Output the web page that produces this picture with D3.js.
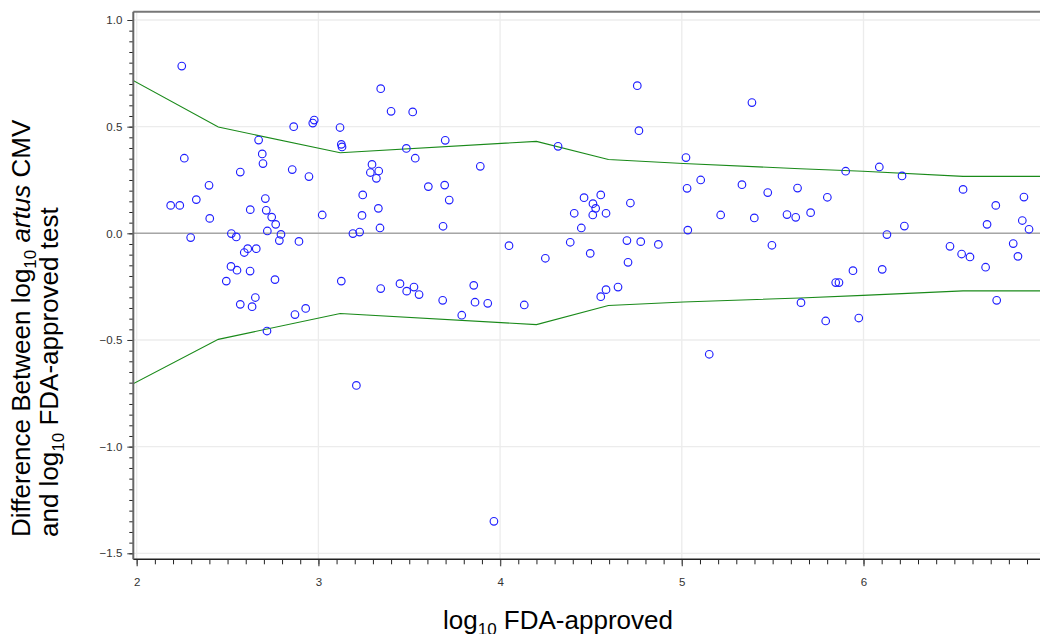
<!DOCTYPE html>
<html>
<head>
<meta charset="utf-8">
<script src="https://cdn.jsdelivr.net/npm/d3@7"></script>
<style>
  body { margin: 0; background: #fff; }
  svg { display: block; }
  .tick text { font-family: "Liberation Sans", Arial, sans-serif; font-size: 11.5px; fill: #333; }
  .title { font-family: "Liberation Sans", Arial, sans-serif; font-size: 26px; fill: #000; }
</style>
</head>
<body>
<script>
// log10 FDA-approved value (x) and difference artus - FDA (y)
var fdaLog = [
  2.248, 2.262, 2.187, 2.237, 2.328, 2.398, 2.402, 2.297, 2.570, 2.625,
  2.521, 2.548, 2.671, 2.691, 2.695, 2.708, 2.713, 2.743, 2.765, 2.719,
  2.794, 2.785, 2.611, 2.592, 2.658, 2.519, 2.552, 2.624, 2.493, 2.761,
  2.653, 2.570, 2.635, 2.717, 2.871, 2.930, 2.893, 3.021, 2.856, 2.948,
  2.864, 2.969, 2.977, 3.119, 3.126, 3.130, 3.126,
  3.343, 3.400, 3.519, 3.484, 3.698, 3.533, 3.295, 3.286, 3.332, 3.319,
  3.891, 3.244, 3.605, 3.695, 3.720, 3.330, 3.240, 3.339, 3.686, 3.190,
  3.227, 4.049, 4.249, 3.343, 3.449, 3.486, 3.526, 3.554, 3.684, 3.855,
  3.862, 3.932, 3.789, 4.133, 3.209, 3.966,
  4.755, 5.386, 4.764, 4.319, 5.023, 5.029, 5.104, 5.331, 5.473, 5.637,
  4.462, 4.554, 4.511, 4.526, 4.510, 4.408, 4.583, 4.717, 4.447, 5.214,
  5.399, 5.579, 5.627, 5.033, 4.386, 4.698, 4.774, 4.871, 4.496, 4.704,
  5.496, 4.649, 4.583, 4.554, 5.151, 5.656,
  6.087, 5.902, 6.212, 5.801, 5.709, 6.225, 6.129, 6.548, 6.728, 6.883,
  6.680, 6.874, 6.911, 6.476, 6.540, 6.586, 6.824, 6.850, 6.672, 5.942,
  6.103, 5.847, 5.865, 5.792, 5.974, 6.733
];
var diffLog = [
  0.784, 0.352, 0.131, 0.131, 0.158, 0.225, 0.070, -0.020, 0.287, 0.111,
  -0.001, -0.017, 0.437, 0.372, 0.327, 0.163, 0.108, 0.076, 0.042, 0.011,
  -0.005, -0.034, -0.072, -0.090, -0.072, -0.155, -0.173, -0.177, -0.224, -0.217,
  -0.301, -0.333, -0.344, -0.458, -0.381, -0.352, -0.038, 0.086, 0.299, 0.266,
  0.500, 0.517, 0.531, 0.496, 0.417, 0.405, -0.224,
  0.678, 0.572, 0.569, 0.398, 0.436, 0.352, 0.323, 0.285, 0.292, 0.258,
  0.314, 0.180, 0.219, 0.226, 0.156, 0.117, 0.084, 0.025, 0.033, -0.001,
  0.006, -0.058, -0.117, -0.259, -0.236, -0.271, -0.252, -0.287, -0.314, -0.244,
  -0.323, -0.328, -0.384, -0.336, -0.713, -1.350,
  0.692, 0.613, 0.481, 0.408, 0.355, 0.211, 0.250, 0.228, 0.191, 0.212,
  0.167, 0.180, 0.139, 0.117, 0.086, 0.094, 0.094, 0.142, 0.025, 0.086,
  0.072, 0.088, 0.075, 0.015, -0.042, -0.034, -0.039, -0.052, -0.094, -0.136,
  -0.056, -0.252, -0.264, -0.297, -0.567, -0.325,
  0.311, 0.291, 0.269, 0.169, 0.097, 0.034, -0.006, 0.206, 0.131, 0.170,
  0.042, 0.060, 0.019, -0.061, -0.097, -0.111, -0.048, -0.108, -0.159, -0.175,
  -0.169, -0.231, -0.231, -0.411, -0.397, -0.314
];

// limits of agreement (green lines)
var limX     = [1.98, 2.449, 3.12, 4.20, 4.596, 5.008, 5.651, 5.997, 6.548, 6.98];
var upperLim = [0.717, 0.498, 0.378, 0.431, 0.346, 0.327, 0.303, 0.291, 0.267, 0.267];
var lowerLim = [-0.705, -0.497, -0.376, -0.428, -0.338, -0.322, -0.303, -0.291, -0.270, -0.270];

var xTicks = [2, 3, 4, 5, 6];
var yTicks = [1.0, 0.5, 0.0, -0.5, -1.0, -1.5];

var W = 1040, H = 634;
var frameL = 133.3, frameT = 11.7, frameB = 559.3, frameR = 1040;

var svg = d3.select("body").append("svg")
  .attr("width", W)
  .attr("height", H);

var x = d3.scaleLinear().domain([2, 7]).range([136.7, 1045.2]);
var y = d3.scaleLinear().domain([1, -1.5]).range([20, 553.3]);

svg.append("defs").append("clipPath").attr("id", "plotClip")
  .append("rect")
  .attr("x", frameL).attr("y", frameT)
  .attr("width", frameR - frameL).attr("height", frameB - frameT);

var plot = svg.append("g").attr("clip-path", "url(#plotClip)");

// grid
plot.selectAll(".vgrid").data(xTicks).enter().append("line")
  .attr("x1", function(d) { return x(d); })
  .attr("x2", function(d) { return x(d); })
  .attr("y1", frameT).attr("y2", frameB)
  .attr("stroke", "#ececec").attr("stroke-width", 1.3);
plot.selectAll(".hgrid").data(yTicks).enter().append("line")
  .attr("y1", function(d) { return y(d); })
  .attr("y2", function(d) { return y(d); })
  .attr("x1", frameL).attr("x2", frameR)
  .attr("stroke", "#ececec").attr("stroke-width", 1.3);

// zero reference
plot.append("line")
  .attr("x1", frameL).attr("x2", frameR)
  .attr("y1", y(0)).attr("y2", y(0))
  .attr("stroke", "#a6a6a6").attr("stroke-width", 1.5);

// limit lines
var limLine = d3.line()
  .x(function(d, i) { return x(limX[i]); })
  .y(function(d) { return y(d); });
plot.append("path").datum(upperLim)
  .attr("d", limLine)
  .attr("fill", "none").attr("stroke", "#1a8a1a").attr("stroke-width", 1.1);
plot.append("path").datum(lowerLim)
  .attr("d", limLine)
  .attr("fill", "none").attr("stroke", "#1a8a1a").attr("stroke-width", 1.1);

// points
plot.selectAll("circle").data(fdaLog).enter().append("circle")
  .attr("cx", function(d) { return x(d); })
  .attr("cy", function(d, i) { return y(diffLog[i]); })
  .attr("r", 3.8)
  .attr("fill", "none")
  .attr("stroke", "#2020ff")
  .attr("stroke-width", 1.15);

// frame top
svg.append("line")
  .attr("x1", frameL).attr("x2", frameR)
  .attr("y1", frameT).attr("y2", frameT)
  .attr("stroke", "#777").attr("stroke-width", 2);

// x axis
var xMinor = d3.range(20, 70).map(function(v) { return v / 10; });
svg.append("g")
  .attr("transform", "translate(0," + frameB + ")")
  .call(d3.axisBottom(x).tickValues(xMinor).tickSize(5).tickFormat(""))
  .call(function(g) { g.select(".domain").remove(); g.selectAll("line").attr("stroke", "#222"); });
var xAxis = svg.append("g")
  .attr("transform", "translate(0," + frameB + ")")
  .call(d3.axisBottom(x).tickValues(xTicks).tickSize(7).tickPadding(12).tickFormat(d3.format("d")));
xAxis.select(".domain").remove();
xAxis.selectAll("line").attr("stroke", "#555").attr("stroke-width", 1.3);
svg.append("line")
  .attr("x1", frameL).attr("x2", frameR)
  .attr("y1", frameB).attr("y2", frameB)
  .attr("stroke", "#222").attr("stroke-width", 1.5);

// y axis
var yMinor = d3.range(-30, 21).map(function(v) { return v / 20; });
svg.append("g")
  .attr("transform", "translate(" + frameL + ",0)")
  .call(d3.axisLeft(y).tickValues(yMinor).tickSize(4).tickFormat(""))
  .call(function(g) { g.select(".domain").remove(); g.selectAll("line").attr("stroke", "#222"); });
var yAxis = svg.append("g")
  .attr("transform", "translate(" + frameL + ",0)")
  .call(d3.axisLeft(y).tickValues(yTicks).tickSize(6).tickPadding(5).tickFormat(d3.format(".1f")));
yAxis.select(".domain").remove();
yAxis.selectAll("line").attr("stroke", "#333");
svg.append("line")
  .attr("x1", frameL).attr("x2", frameL)
  .attr("y1", frameT).attr("y2", frameB)
  .attr("stroke", "#666").attr("stroke-width", 2);

// x title
var xt = svg.append("text").attr("class", "title")
  .attr("x", 443).attr("y", 629);
xt.append("tspan").text("log");
xt.append("tspan").attr("dy", 6).style("font-size", "17px").text("10");
xt.append("tspan").attr("dy", -6).text(" FDA-approved");

// y title, two lines
var yt = svg.append("text").attr("class", "title")
  .attr("transform", "translate(30,537) rotate(-90)");
var l1 = yt.append("tspan").attr("x", 0).attr("y", 0);
yt.append("tspan").text("Difference Between log");
yt.append("tspan").attr("dy", 6).style("font-size", "17px").text("10");
yt.append("tspan").attr("dy", -6).text(" ");
yt.append("tspan").style("font-style", "italic").text("artus");
yt.append("tspan").text(" CMV");
yt.append("tspan").attr("x", 0).attr("y", 28).text("and log");
yt.append("tspan").attr("dy", 6).style("font-size", "17px").text("10");
yt.append("tspan").attr("dy", -6).text(" FDA-approved test");
</script>
</body>
</html>
